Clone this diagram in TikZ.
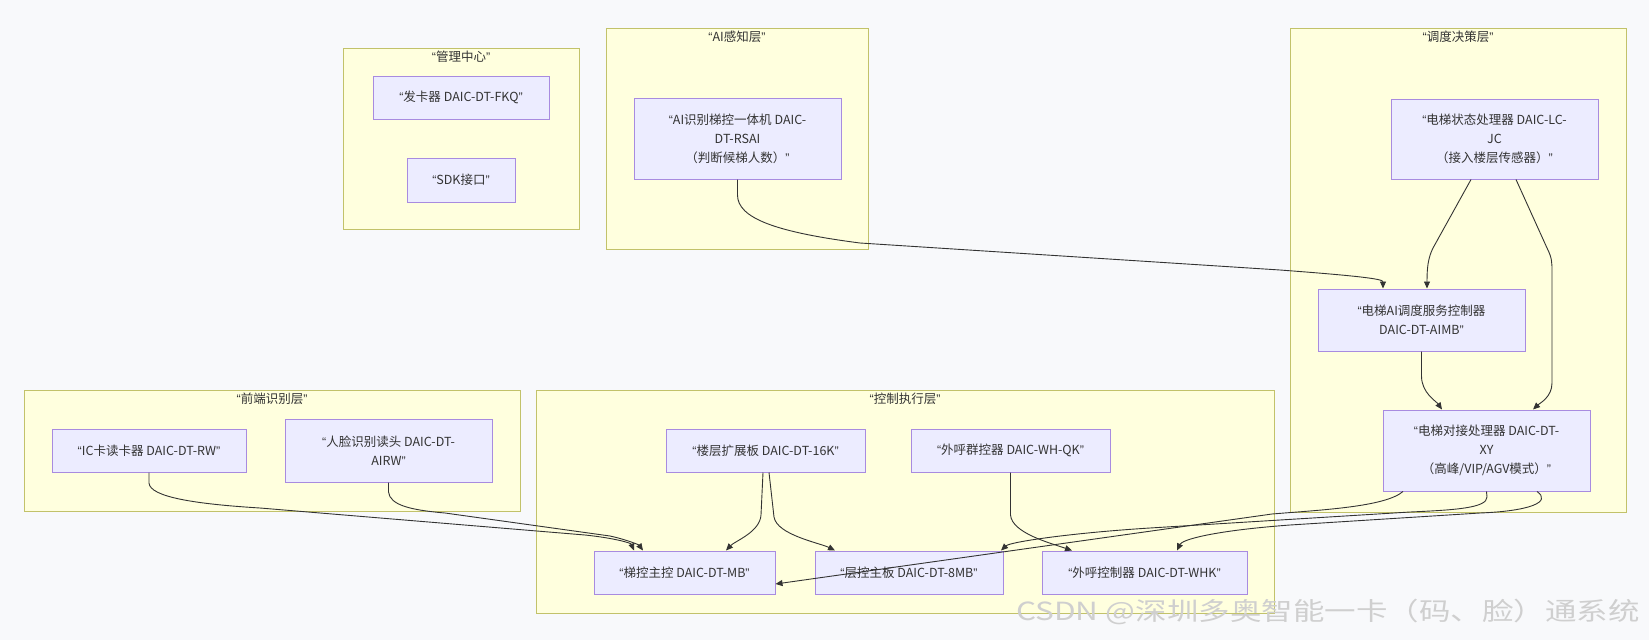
\documentclass[tikz,border=0pt]{standalone}
\usepackage{fontspec}
\setmainfont{Noto Sans CJK SC}
\newfontfamily\qf{Liberation Sans}
\usetikzlibrary{arrows.meta,calc}
\definecolor{bgc}{HTML}{F8F9FB}
\definecolor{clf}{HTML}{FFFFDE}
\definecolor{clb}{HTML}{C2C26A}
\definecolor{ndf}{HTML}{ECECFF}
\definecolor{ndb}{HTML}{A88BE0}
\definecolor{edc}{HTML}{333333}
\definecolor{txt}{HTML}{333333}
\definecolor{wmc}{HTML}{CFCFCF}
\newcommand\oq{{\qf “}}
\newcommand\cq{{\qf ”}}
\begin{document}
\begin{tikzpicture}[x=1pt,y=-1pt,
  cluster/.style={draw=clb,fill=clf,line width=1pt},
  ctitle/.style={anchor=north,font=\fontsize{12.5}{15}\selectfont,text=txt,inner sep=0pt},
  box/.style={draw=ndb,fill=ndf,line width=1pt,font=\fontsize{12.5}{19}\selectfont,align=center,text=txt,inner sep=0pt},
  edge/.style={draw=edc,line width=0.9pt,-{Triangle[length=7pt,width=6pt]}}]
\fill[bgc] (0,0) rectangle (1649,640);
\useasboundingbox (0,0) rectangle (1649,640);
% clusters
\draw[cluster] (343,48) rectangle (579,229);
\node[ctitle] (t1) at (461,51) {\oq 管理中心\cq};
\draw[cluster] (606,28) rectangle (868,249);
\node[ctitle] (t2) at (737,31) {\oq AI感知层\cq};
\draw[cluster] (1290,28) rectangle (1626,512);
\node[ctitle] (t3) at (1458,31) {\oq 调度决策层\cq};
\draw[cluster] (24,390) rectangle (520,511);
\node[ctitle] (t4) at (272,393) {\oq 前端识别层\cq};
\draw[cluster] (536,390) rectangle (1274,613);
\node[ctitle] (t5) at (905,393) {\oq 控制执行层\cq};
% nodes
\node[box,minimum width=176,minimum height=43] (fkq) at (461,97.5) {\oq 发卡器 DAIC-DT-FKQ\cq};
\node[box,minimum width=108,minimum height=44] (sdk) at (461,180) {\oq SDK接口\cq};
\node[box,minimum width=207,minimum height=81] (rsai) at (737.5,138.5) {\oq AI识别梯控一体机 DAIC-\\DT-RSAI\\（判断候梯人数）\cq};
\node[box,minimum width=207,minimum height=80] (jc) at (1494.5,139) {\oq 电梯状态处理器 DAIC-LC-\\JC\\（接入楼层传感器）\cq};
\node[box,minimum width=207,minimum height=62] (aimb) at (1421.5,320) {\oq 电梯AI调度服务控制器\\DAIC-DT-AIMB\cq};
\node[box,minimum width=207,minimum height=81] (xy) at (1486.5,450.5) {\oq 电梯对接处理器 DAIC-DT-\\XY\\（高峰/VIP/AGV模式）\cq};
\node[box,minimum width=194,minimum height=43] (rw) at (149,450.5) {\oq IC卡读卡器 DAIC-DT-RW\cq};
\node[box,minimum width=207,minimum height=63] (airw) at (388.5,450.5) {\oq 人脸识别读头 DAIC-DT-\\AIRW\cq};
\node[box,minimum width=199,minimum height=43] (k16) at (765.5,450.5) {\oq 楼层扩展板 DAIC-DT-16K\cq};
\node[box,minimum width=199,minimum height=43] (qk) at (1010.5,450.5) {\oq 外呼群控器 DAIC-WH-QK\cq};
\node[box,minimum width=181,minimum height=43] (mb) at (684.5,572.5) {\oq 梯控主控 DAIC-DT-MB\cq};
\node[box,minimum width=188,minimum height=43] (mb8) at (909,572.5) {\oq 层控主板 DAIC-DT-8MB\cq};
\node[box,minimum width=205,minimum height=43] (whk) at (1144.5,572.5) {\oq 外呼控制器 DAIC-DT-WHK\cq};
% edges
\draw[edge] (rsai.south) -- (737.5,195) .. controls (737.5,218) and (775,232) .. (860,243) -- (1280,270) .. controls (1360,276) and (1383,279) .. ([xshift=-38.5]aimb.north);
\draw[edge] ([xshift=-23.5]jc.south) -- (1433,248) .. controls (1428,258) and (1427,268) .. ([xshift=5.5]aimb.north);
\draw[edge] ([xshift=21.5]jc.south) -- (1547,248) .. controls (1552,258) and (1552,262) .. (1552,272) -- (1552,383) .. controls (1552,397) and (1540,403) .. ([xshift=46.5]xy.north);
\draw[edge] (aimb.south) -- (1421.5,376) .. controls (1421.5,393) and (1436,401) .. ([xshift=-44.5]xy.north);
\draw[edge] (rw.south) -- (149,483) .. controls (150,497) and (195,504) .. (260,508) -- (585,535) .. controls (614,538) and (631,543) .. ([xshift=-50.5]mb.north);
\draw[edge] (airw.south) -- (388.5,492) .. controls (390,505) and (410,510) .. (445,513) -- (610,536) .. controls (628,540) and (639,545) .. ([xshift=-41.5]mb.north);
\draw[edge] ([xshift=-2.5]k16.south) -- (761,515) .. controls (760,532) and (735,541) .. ([xshift=41.5]mb.north);
\draw[edge] ([xshift=3.5]k16.south) -- (774,517) .. controls (777,535) and (820,543) .. ([xshift=-74]mb8.north);
\draw[edge] (qk.south) -- (1010.5,515) .. controls (1012,533) and (1050,543) .. ([xshift=-72.5]whk.north);
\draw[edge] ([xshift=-83.5]xy.south) .. controls (1385,507) and (1320,510) .. (1272,514) -- ([yshift=-11.5]mb.east);
\draw[edge] (xy.south) -- (1487,497) .. controls (1487,508) and (1455,510) .. (1410,512) -- (1150,528) .. controls (1070,533) and (1010,542) .. ([xshift=92]mb8.north);
\draw[edge] ([xshift=50.5]xy.south) .. controls (1552,502) and (1530,511) .. (1480,513) -- (1290,525) .. controls (1210,531) and (1182,540) .. ([xshift=32.5]whk.north);
% watermark
\node[anchor=west,inner sep=0pt,font=\fontsize{25}{25}\selectfont,text=wmc] (wm) at (1016,612) {\scalebox{1.26}[1]{CSDN @深圳多奥智能一卡（码、脸）通系统}};
\end{tikzpicture}
\end{document}
